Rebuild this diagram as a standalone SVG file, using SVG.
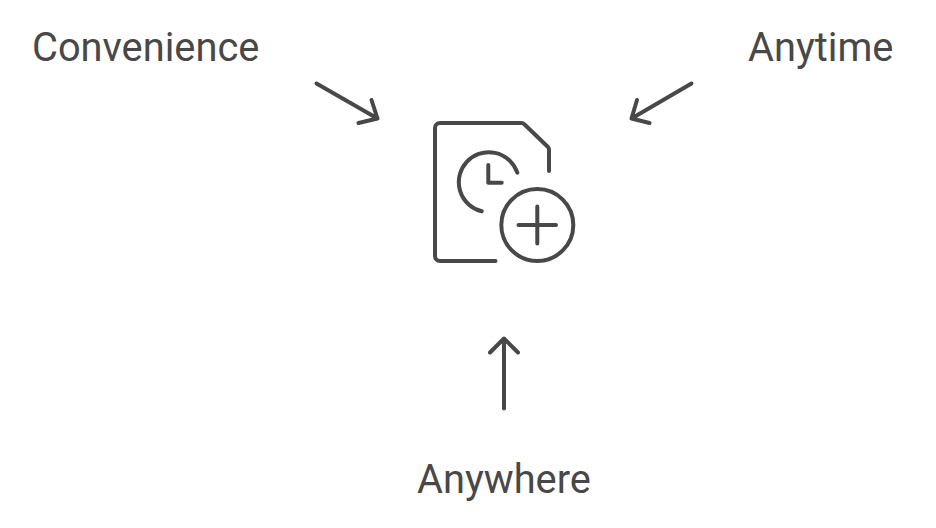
<svg xmlns="http://www.w3.org/2000/svg" width="936" height="528" viewBox="0 0 936 528">
<style>
.l{font-family:Roboto,"Liberation Sans",sans-serif;font-size:39.8px;fill:#484848}
.s{fill:none;stroke:#484848;stroke-width:4;stroke-linecap:round;stroke-linejoin:round}
</style>
<rect width="936" height="528" fill="#ffffff"/>
<g id="connectors">
<path class="s" d="M316.500 83.500L377.500 118.500M371.500 100L377.500 118.500L358.500 123"/>
<path class="s" d="M691.500 83.500L631.500 118.500M637 100L631.500 118.500L649.500 123"/>
<path class="s" d="M504 408.500V338.500M490 352.500L504 338.500L518 352.500"/>
</g>
<g id="icon">
<path class="s" d="M495.500 261H440A5 5 0 0 1 435 256V128A5 5 0 0 1 440 123H521.500A4 4 0 0 1 524.300 124.200L548 147A4 4 0 0 1 549 149.800V171"/>
<path class="s" d="M517.300 172.700A30 30 0 1 0 481.700 211.300"/>
<path class="s" d="M488.300 165V182.700H501.700"/>
<circle class="s" cx="537.300" cy="225" r="36"/>
<path class="s" d="M518.500 225H556M537.300 206.500V243.500"/>
</g>
<g id="convenience"><text class="l" x="32" y="60.600">Convenience</text></g>
<g id="anytime"><text class="l" x="748" y="60.600">Anytime</text></g>
<g id="anywhere"><text class="l" x="417" y="492.600">Anywhere</text></g>
</svg>
